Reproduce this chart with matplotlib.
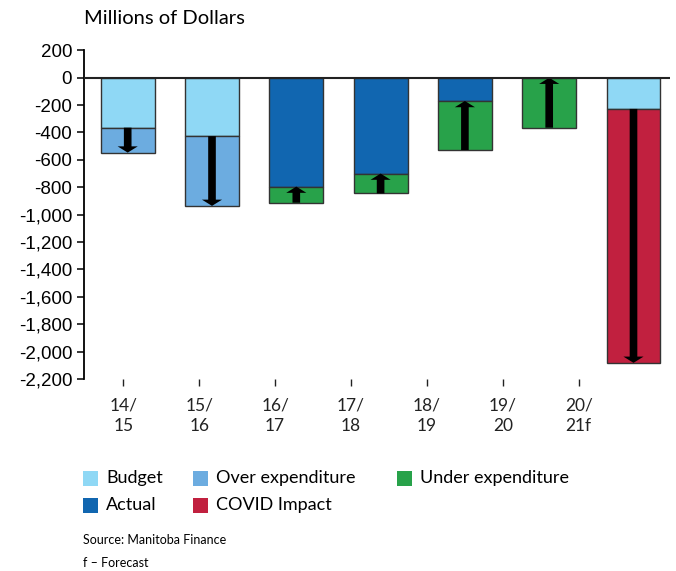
import matplotlib
matplotlib.use("Agg")
import matplotlib.pyplot as plt
from matplotlib.patches import Rectangle
from matplotlib.ticker import FuncFormatter

# ---- data ----
years = ["14/\n15", "15/\n16", "16/\n17", "17/\n18", "18/\n19", "19/\n20", "20/\n21f"]
budget = [-365, -427, -913, -845, -528, -365, -228]
actual = [-547, -936, -795, -700, -170, 0, -2082]
covid = [False, False, False, False, False, False, True]
yticks = list(range(200, -2201, -200))

legend_labels = ["Budget", "Over expenditure", "Under expenditure", "Actual", "COVID Impact"]
C_BUDGET = "#8fd8f5"
C_OVER = "#6cace0"
C_UNDER = "#28a24a"
C_ACTUAL = "#1166b0"
C_COVID = "#c1203f"
legend_colors = [C_BUDGET, C_OVER, C_UNDER, C_ACTUAL, C_COVID]

FONT = "Lato"
W, H = 676, 571
fig = plt.figure(figsize=(W / 100, H / 100), dpi=100)

left_px, right_px, top_px, bot_px = 84, 670, 50.3, 379
pos = [left_px / W, 1 - bot_px / H, (right_px - left_px) / W, (bot_px - top_px) / H]
ax = fig.add_axes(pos)

bw = 0.64
edge = "#333333"
for i in range(len(years)):
    b, a = budget[i], actual[i]
    if covid[i]:
        ax.bar(i, b, width=bw, color=C_BUDGET, edgecolor=edge, lw=1, zorder=2)
        ax.bar(i, a - b, bottom=b, width=bw, color=C_COVID, edgecolor=edge, lw=1, zorder=2)
    elif a < b:
        ax.bar(i, b, width=bw, color=C_BUDGET, edgecolor=edge, lw=1, zorder=2)
        ax.bar(i, a - b, bottom=b, width=bw, color=C_OVER, edgecolor=edge, lw=1, zorder=2)
    else:
        if a < 0:
            ax.bar(i, a, width=bw, color=C_ACTUAL, edgecolor=edge, lw=1, zorder=2)
        ax.bar(i, b - a, bottom=a, width=bw, color=C_UNDER, edgecolor=edge, lw=1, zorder=2)
    ax.annotate("", xy=(i, a), xytext=(i, b),
                arrowprops=dict(arrowstyle="simple,head_length=0.45,head_width=1.45,tail_width=0.55",
                                fc="black", ec="none", shrinkA=0, shrinkB=0,
                                mutation_scale=10),
                zorder=3)

ax.set_xlim((left_px - 127.7) / 84.3, (right_px - 127.7) / 84.3)
ax.set_ylim(-2200, 200)
ax.axhline(0, color="#222222", lw=1.5, zorder=4)
for s in ["top", "right", "bottom"]:
    ax.spines[s].set_visible(False)
ax.spines["left"].set_linewidth(1.3)
ax.set_xticks([])
ax.set_yticks(yticks)
ax.yaxis.set_major_formatter(FuncFormatter(lambda v, p: f"{int(v):,}"))
ax.tick_params(axis="y", direction="out", length=5, width=1.1, pad=3.5,
               labelsize=13.5, colors="black")
for t in ax.get_yticklabels():
    t.set_fontfamily("Liberation Sans")

# separate category axis (labels sit on their own spacing)
axt = fig.add_axes(pos, frameon=False)
axt.set_xlim((left_px - 123.3) / 75.9, (right_px - 123.3) / 75.9)
axt.set_ylim(0, 1)
axt.set_yticks([])
axt.set_xticks(range(len(years)))
axt.set_xticklabels(years, fontfamily=FONT, fontsize=12.5, linespacing=1.35)
axt.tick_params(axis="x", direction="out", length=5, width=1, pad=8, colors="#222222")
axt.patch.set_visible(False)

fig.text(left_px / W, 1 - 19 / H, "Millions of Dollars", fontfamily=FONT, fontsize=14.5,
         va="center", ha="left")

# legend
col_x = [83, 193, 397]
row_y = [478, 505]
slots = [(0, 0), (0, 1), (0, 2), (1, 0), (1, 1)]
sq = 15
for lab, col, (r, c) in zip(legend_labels, legend_colors, slots):
    x, y = col_x[c], row_y[r]
    fig.patches.append(Rectangle((x / W, 1 - (y + sq / 2) / H), sq / W, sq / H,
                                 transform=fig.transFigure, facecolor=col, edgecolor="none"))
    fig.text((x + 23) / W, 1 - y / H, lab, fontfamily=FONT, fontsize=13, va="center", ha="left")

fig.text(83 / W, 1 - 540 / H, "Source: Manitoba Finance", fontfamily=FONT, fontsize=9,
         va="center", ha="left")
fig.text(83 / W, 1 - 563 / H, "f \u2013 Forecast", fontfamily=FONT, fontsize=9,
         va="center", ha="left")

fig.savefig("out.png", dpi=100)
